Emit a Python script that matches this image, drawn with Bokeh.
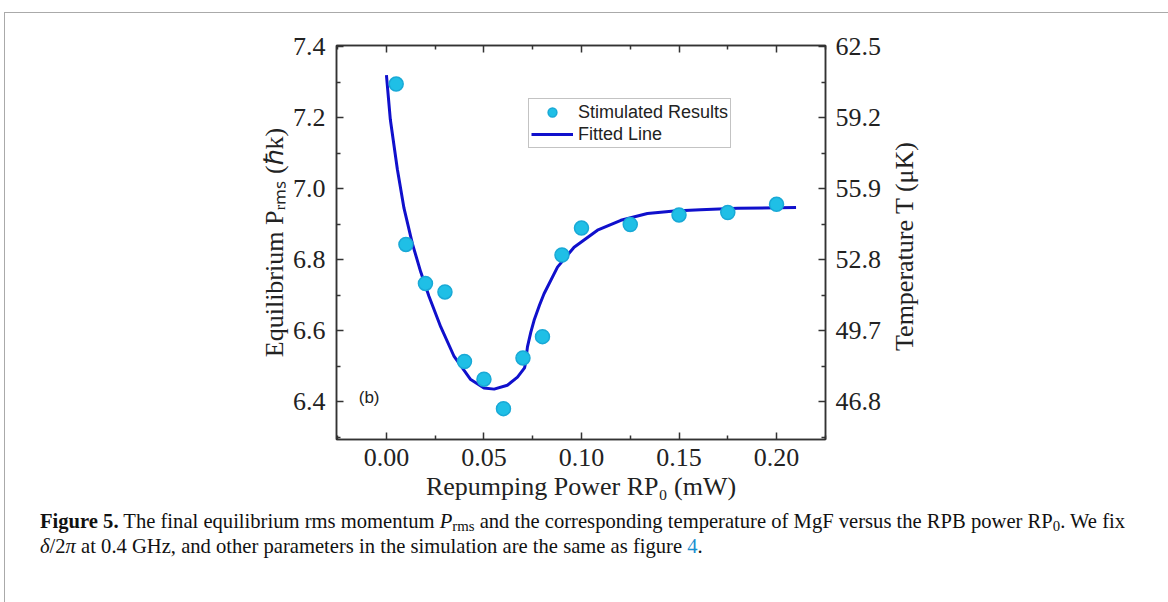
from bokeh.plotting import figure
from bokeh.models import (Range1d, LinearAxis, FixedTicker, Legend, LegendItem, Label, Div,
                          CustomJSTickFormatter, NumeralTickFormatter)
from bokeh.layouts import column, row
from bokeh.embed import file_html
from bokeh.resources import INLINE

# ---- data ----
sim_x = [0.005, 0.01, 0.02, 0.03, 0.04, 0.05, 0.06, 0.07, 0.08, 0.09, 0.10, 0.125, 0.15, 0.175, 0.20]
sim_y = [7.295, 6.843, 6.733, 6.709, 6.513, 6.463, 6.380, 6.523, 6.583, 6.813, 6.889, 6.899, 6.926, 6.933, 6.956]

fit_x = [0.0, 0.002, 0.0056, 0.009, 0.0133, 0.0176, 0.0218, 0.0278, 0.0347, 0.0432, 0.050, 0.0552,
         0.062, 0.0672, 0.0708, 0.0712, 0.0723, 0.074, 0.0757, 0.0785, 0.0808, 0.0877, 0.0962,
         0.1082, 0.1202, 0.1338, 0.1475, 0.161, 0.18, 0.21]
fit_y = [7.320, 7.195, 7.055, 6.945, 6.845, 6.765, 6.697, 6.611, 6.527, 6.462, 6.438, 6.435,
         6.446, 6.469, 6.495, 6.505, 6.554, 6.595, 6.629, 6.672, 6.704, 6.779, 6.835,
         6.883, 6.911, 6.930, 6.937, 6.941, 6.945, 6.947]

x_ticks = [0.00, 0.05, 0.10, 0.15, 0.20]
x_minor = [-0.025, 0.025, 0.075, 0.125, 0.175, 0.225]
p_ticks = [6.4, 6.6, 6.8, 7.0, 7.2, 7.4]
p_minor = [6.3, 6.5, 6.7, 6.9, 7.1, 7.3]
t_labels = ["46.8", "49.7", "52.8", "55.9", "59.2", "62.5"]
right_title = "Temperature T (\u03bcK)"

AX = "#333333"
SERIF = "Liberation Serif"
SANS = "Liberation Sans"

p = figure(width=880, height=497, output_backend="svg", toolbar_location=None,
           x_range=Range1d(-0.0256, 0.2251), y_range=Range1d(6.293, 7.4037),
           min_border_left=331, min_border_right=60, min_border_top=32, min_border_bottom=71,
           x_axis_location=None, y_axis_location=None)
p.grid.visible = False
p.outline_line_color = AX
p.outline_line_width = 1.5
p.background_fill_color = "white"
p.border_fill_color = "white"

def style_axis(ax, fs="26px"):
    ax.axis_line_color = AX
    ax.axis_line_width = 1.5
    ax.major_tick_line_color = AX
    ax.minor_tick_line_color = AX
    ax.major_tick_line_width = 1.5
    ax.minor_tick_line_width = 1.5
    ax.major_tick_in = 7
    ax.major_tick_out = 0
    ax.minor_tick_in = 4
    ax.minor_tick_out = 0
    ax.major_label_text_font = SERIF
    ax.major_label_text_font_size = fs
    ax.major_label_text_color = "#222222"
    ax.axis_label_text_font = SERIF
    ax.axis_label_text_font_size = "26px"
    ax.axis_label_text_font_style = "normal"
    ax.axis_label_text_color = "#222222"

xb = LinearAxis(ticker=FixedTicker(ticks=x_ticks, minor_ticks=x_minor),
                formatter=NumeralTickFormatter(format="0.00"),
                axis_label="Repumping Power RP\u2080 (mW)")
style_axis(xb)
xb.major_label_standoff = 9
xb.axis_label_standoff = 3
p.add_layout(xb, "below")

xt = LinearAxis(ticker=FixedTicker(ticks=x_ticks, minor_ticks=x_minor),
                formatter=CustomJSTickFormatter(code="return ''"))
style_axis(xt)
p.add_layout(xt, "above")

yl = LinearAxis(ticker=FixedTicker(ticks=p_ticks, minor_ticks=p_minor),
                formatter=NumeralTickFormatter(format="0.0"),
                axis_label="Equilibrium P\u1d63\u2098\u209b (\u210fk)")
style_axis(yl)
yl.major_label_standoff = 11
yl.axis_label_standoff = 1
p.add_layout(yl, "left")

yr = LinearAxis(ticker=FixedTicker(ticks=p_ticks, minor_ticks=p_minor),
                major_label_overrides={t: l for t, l in zip(p_ticks, t_labels)})
style_axis(yr)
yr.major_label_standoff = 10
p.add_layout(yr, "right")

fit = p.line(fit_x, fit_y, line_color="#1010cc", line_width=3)
sim = p.scatter(sim_x, sim_y, marker="circle", size=14, fill_color="#1fbfe6",
                line_color="#19a9d6", line_width=1.5)

legend = Legend(items=[LegendItem(label="Stimulated Results", renderers=[sim]),
                       LegendItem(label="Fitted Line", renderers=[fit])],
                location=(192, 291), orientation="vertical")
legend.label_text_font = SANS
legend.label_text_font_size = "18px"
legend.label_text_color = "#222222"
legend.glyph_width = 42
legend.glyph_height = 22
legend.label_height = 22
legend.label_standoff = 5
legend.padding = 2
legend.spacing = 0
legend.margin = 0
legend.border_line_color = "#888888"
legend.border_line_width = 1
legend.background_fill_color = "white"
p.add_layout(legend, "center")

p.add_layout(Label(x=-0.0142, y=6.412, text="(b)", text_font=SANS, text_font_size="17px",
                   text_color="#222222", text_baseline="middle", text_align="left"))

# right-hand axis title, reading bottom to top, beside the figure
side = Div(text=(
    "<div style=\"margin-top:124px; margin-left:0px; writing-mode:vertical-rl; "
    "transform:rotate(180deg); font-family:'Liberation Serif'; font-size:26px; "
    "line-height:30px; color:#222222; white-space:nowrap;\">" + right_title + "</div>"),
    width=279, height=497)

SUB = "<sub style=\"vertical-align:-0.22em; font-size:72%; line-height:0\">"
caption = (
    "<div style=\"font-family:'Liberation Serif'; font-size:20.6px; line-height:24.5px; "
    "color:#111; white-space:nowrap; padding-left:30px; position:relative; top:-16px;\">"
    "<b>Figure 5.</b> The final equilibrium rms momentum <i>P</i>" + SUB + "rms</sub> and the "
    "corresponding temperature of MgF versus the RPB power RP" + SUB + "0</sub>. We fix<br>"
    "<i>\u03b4</i>/2<i>\u03c0</i> at 0.4 GHz, and other parameters in the simulation are the "
    "same as figure <span style=\"color:#1a8fd0\">4</span>."
    "</div>"
)
div = Div(text=caption, width=1159, height=90)

layout = column(row(p, side), div, margin=(12, 0, 0, 4),
                styles={"border-left": "1px solid #aaaaaa", "border-right": "1px solid #aaaaaa",
                        "border-top": "1px solid #aaaaaa"})

open("out.html", "w").write(file_html(layout, INLINE))
